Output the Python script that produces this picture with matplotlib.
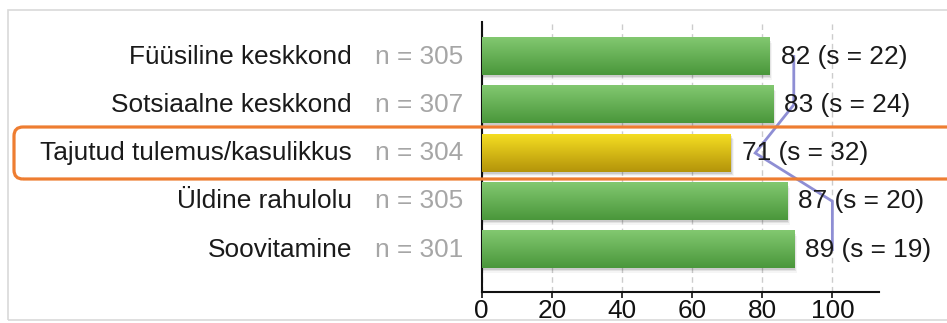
import numpy as np
import matplotlib
matplotlib.use('Agg')
import matplotlib.pyplot as plt
from matplotlib.colors import LinearSegmentedColormap
from matplotlib.patches import FancyBboxPatch, Rectangle

categories = ["Füüsiline keskkond", "Sotsiaalne keskkond", "Tajutud tulemus/kasulikkus",
              "Üldine rahulolu", "Soovitamine"]
n_values = [305, 307, 304, 305, 301]
means = [82, 83, 71, 87, 89]
sds = [22, 24, 32, 20, 19]
benchmark = [89, 89, 78, 100, 100]
highlight = [False, False, True, False, False]
xticks = [0, 20, 40, 60, 80, 100]

plt.rcParams['font.family'] = ['Liberation Sans', 'DejaVu Sans']
FS = 18.9

fig = plt.figure(figsize=(9.47, 3.23), dpi=100)
ax = fig.add_axes([481.7 / 947, 31 / 323, 397.3 / 947, 270 / 323])
ax.set_xlim(0, 113.3)
ax.set_ylim(4.88, -0.715)

h = 0.77
green = LinearSegmentedColormap.from_list('g', ['#82c870', '#4a973b'])
yellow = LinearSegmentedColormap.from_list('y', ['#f4dd22', '#b4940a'])
grad = np.linspace(0, 1, 64).reshape(-1, 1)

ypos = np.arange(len(categories))
for i, v in enumerate(means):
    # soft shadow
    for k, a in enumerate([0.10, 0.07, 0.04]):
        ax.barh(i + 0.04 + 0.03 * k, v + 0.3 + 0.3 * k, height=h, color='#000000',
                alpha=a, zorder=2, linewidth=0)
    cmap = yellow if highlight[i] else green
    ax.imshow(grad, cmap=cmap, aspect='auto', extent=[0, v, i + h / 2, i - h / 2],
              zorder=3, interpolation='bicubic')

ax.set_xlim(0, 113.3)
ax.set_ylim(4.88, -0.715)

ax.plot(benchmark, ypos, color='#8e8ed4', lw=2, zorder=4, solid_joinstyle='miter')

for i, (v, s) in enumerate(zip(means, sds)):
    ax.annotate(f"{v} (s = {s})", xy=(v, i), xytext=(8.3, 0), textcoords='offset points',
                va='center', ha='left', fontsize=FS, color='#1a1a1a', zorder=5)

ytr = ax.get_yaxis_transform()
for i, (c, n) in enumerate(zip(categories, n_values)):
    ax.text(-0.3265, i, c, transform=ytr, ha='right', va='center', fontsize=FS,
            color='#1a1a1a')
    ax.text(-0.047, i, f"n = {n}", transform=ytr, ha='right', va='center', fontsize=FS,
            color='#a6a6a6')

ax.set_xticks(xticks)
ax.set_yticks([])
ax.xaxis.grid(True, linestyle=(0, (4, 3)), color='#cccccc', lw=1)
ax.set_axisbelow(True)
for sp in ['top', 'right']:
    ax.spines[sp].set_visible(False)
for sp in ['left', 'bottom']:
    ax.spines[sp].set_color('#111111')
    ax.spines[sp].set_linewidth(1.5)
ax.tick_params(axis='x', length=4, width=1.2, pad=1, labelsize=FS, colors='#111111')

# highlight box
box = FancyBboxPatch((0.14, 1.44), 9.5, 0.52, boxstyle="round,pad=0,rounding_size=0.09",
                     transform=fig.dpi_scale_trans, fill=False, ec='#ee7d31', lw=2.3,
                     zorder=10)
fig.add_artist(box)

# outer frame
frame = Rectangle((0.075, 0.03), 10, 3.105, transform=fig.dpi_scale_trans, fill=False,
                  ec='#d9d9d9', lw=1.2)
fig.add_artist(frame)

fig.savefig('out.png', dpi=100)
